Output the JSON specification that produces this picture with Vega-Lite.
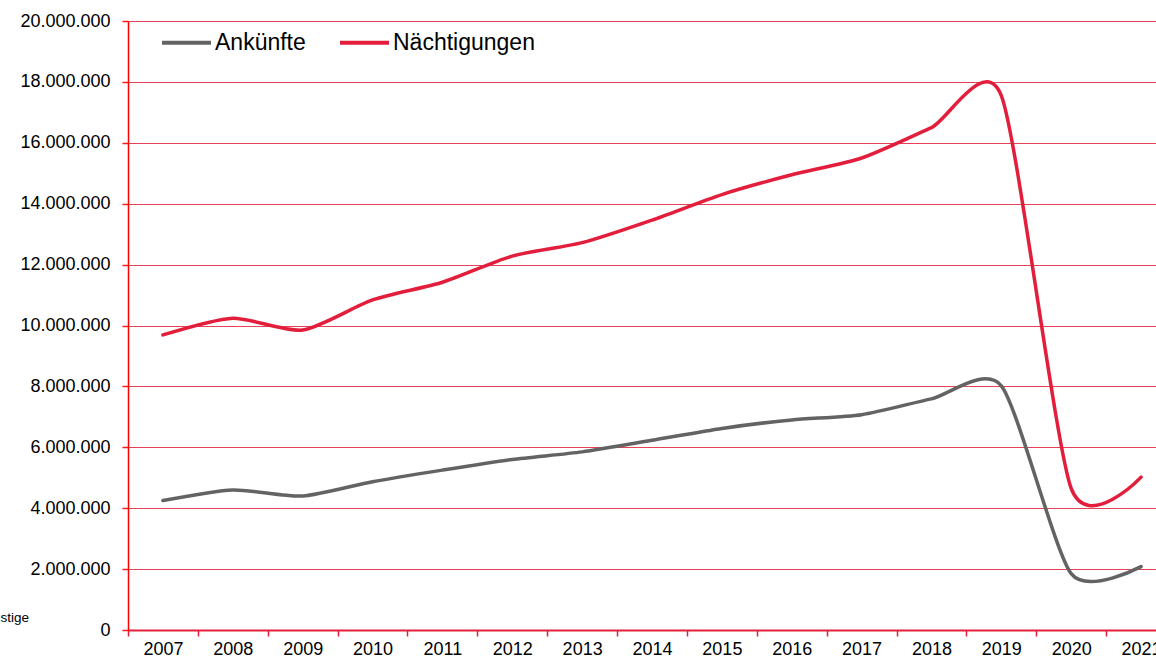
{
  "$schema": "https://vega.github.io/schema/vega-lite/v6.json",
  "autosize": {"type": "none"},
  "padding": {"left": 128, "top": 21, "right": 0, "bottom": 31},
  "width": 1028,
  "height": 609,
  "background": "white",
  "config": {
    "locale": {"number": {"decimal": ",", "thousands": ".", "grouping": [3], "currency": ["", " €"]}},
    "view": {"stroke": null},
    "font": "Liberation Sans"
  },
  "data": {
    "values": [
      {"year": "2007", "series": "Ankünfte", "value": 4250000},
      {"year": "2008", "series": "Ankünfte", "value": 4600000},
      {"year": "2009", "series": "Ankünfte", "value": 4400000},
      {"year": "2010", "series": "Ankünfte", "value": 4870000},
      {"year": "2011", "series": "Ankünfte", "value": 5250000},
      {"year": "2012", "series": "Ankünfte", "value": 5600000},
      {"year": "2013", "series": "Ankünfte", "value": 5850000},
      {"year": "2014", "series": "Ankünfte", "value": 6230000},
      {"year": "2015", "series": "Ankünfte", "value": 6620000},
      {"year": "2016", "series": "Ankünfte", "value": 6900000},
      {"year": "2017", "series": "Ankünfte", "value": 7070000},
      {"year": "2018", "series": "Ankünfte", "value": 7590000},
      {"year": "2019", "series": "Ankünfte", "value": 8020000},
      {"year": "2020", "series": "Ankünfte", "value": 1850000},
      {"year": "2021", "series": "Ankünfte", "value": 2080000},
      {"year": "2007", "series": "Nächtigungen", "value": 9690000},
      {"year": "2008", "series": "Nächtigungen", "value": 10240000},
      {"year": "2009", "series": "Nächtigungen", "value": 9850000},
      {"year": "2010", "series": "Nächtigungen", "value": 10840000},
      {"year": "2011", "series": "Nächtigungen", "value": 11420000},
      {"year": "2012", "series": "Nächtigungen", "value": 12280000},
      {"year": "2013", "series": "Nächtigungen", "value": 12720000},
      {"year": "2014", "series": "Nächtigungen", "value": 13460000},
      {"year": "2015", "series": "Nächtigungen", "value": 14300000},
      {"year": "2016", "series": "Nächtigungen", "value": 14950000},
      {"year": "2017", "series": "Nächtigungen", "value": 15500000},
      {"year": "2018", "series": "Nächtigungen", "value": 16500000},
      {"year": "2019", "series": "Nächtigungen", "value": 17550000},
      {"year": "2020", "series": "Nächtigungen", "value": 4650000},
      {"year": "2021", "series": "Nächtigungen", "value": 5020000}
    ]
  },
  "mark": {"type": "line", "interpolate": "cardinal", "tension": 0.3, "strokeWidth": 3.5, "strokeCap": "round"},
  "encoding": {
    "x": {
      "field": "year",
      "type": "ordinal",
      "scale": {"type": "band", "paddingInner": 0, "paddingOuter": 0, "range": [0, 1048]},
      "axis": {
        "title": null,
        "labelAngle": 0,
        "labelFontSize": 18,
        "labelColor": "black",
        "labelPadding": 4,
        "tickBand": "extent",
        "tickSize": 6,
        "tickColor": "#e3203a",
        "tickWidth": 1.5,
        "domainColor": "#e3203a",
        "domainWidth": 2,
        "grid": false
      }
    },
    "y": {
      "field": "value",
      "type": "quantitative",
      "scale": {"domain": [0, 20000000], "nice": false},
      "axis": {
        "values": [0, 2000000, 4000000, 6000000, 8000000, 10000000, 12000000, 14000000, 16000000, 18000000, 20000000],
        "format": ",d",
        "labelFontSize": 18,
        "labelColor": "black",
        "labelPadding": 12,
        "tickSize": 6,
        "tickColor": "#ff1a1a",
        "tickWidth": 1.5,
        "domainColor": "#ff0000",
        "domainWidth": 1.5,
        "grid": true,
        "gridColor": "#e3203a",
        "gridWidth": 1,
        "gridOpacity": 0.85,
        "title": "Sonstige",
        "titleAngle": 0,
        "titleX": -152,
        "titleY": 600,
        "titleAlign": "left",
        "titleBaseline": "alphabetic",
        "titleFontSize": 13.5,
        "titleFontWeight": "normal",
        "titleColor": "black"
      }
    },
    "color": {
      "field": "series",
      "type": "nominal",
      "scale": {"domain": ["Ankünfte", "Nächtigungen"], "range": ["#636363", "#e31e3c"]},
      "legend": {
        "title": null,
        "orient": "none",
        "legendX": 32,
        "legendY": -5,
        "direction": "horizontal",
        "symbolType": "stroke",
        "symbolSize": 2400,
        "symbolStrokeWidth": 4,
        "labelFontSize": 23,
        "labelColor": "black",
        "labelOffset": 2,
        "columnPadding": 26,
        "padding": 0
      }
    }
  }
}
